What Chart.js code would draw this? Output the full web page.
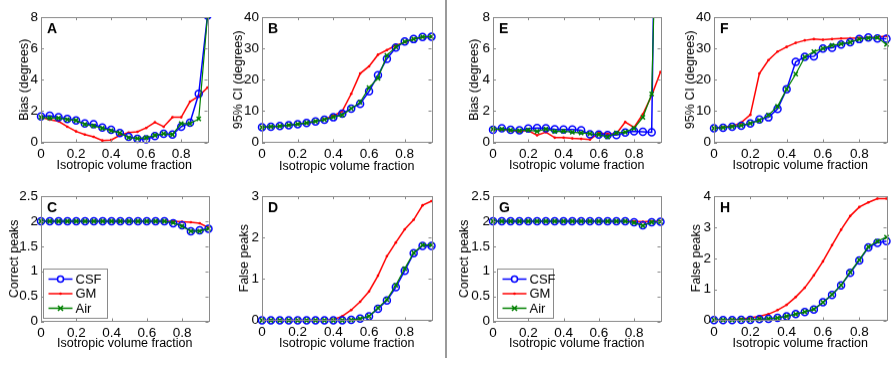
<!DOCTYPE html>
<html>
<head>
<meta charset="utf-8">
<script src="https://cdn.jsdelivr.net/npm/chart.js@4.4.1/dist/chart.umd.min.js"></script>
<style>
  body { margin: 0; background: #fff; width: 892px; height: 369px; position: relative; overflow: hidden; }
  .panel { position: absolute; }
  #divider { position: absolute; left: 445px; top: 0; width: 2px; height: 358px; background: #9a9a9a; }
</style>
</head>
<body>
<div id="divider"></div>
<script>
// x positions (isotropic volume fraction) shared by all panels
const fractions = [0, 0.05, 0.1, 0.15, 0.2, 0.25, 0.3, 0.35, 0.4, 0.45, 0.5, 0.55, 0.6, 0.65, 0.7, 0.75, 0.8, 0.85, 0.9, 0.95];

// tick labels
const xTicks = [0, 0.2, 0.4, 0.6, 0.8];
const biasTicks = [0, 2, 4, 6, 8];
const ciTicks = [0, 10, 20, 30, 40];
const correctTicks = [0, 0.5, 1, 1.5, 2, 2.5];
const falseTicksD = [0, 1, 2, 3];
const falseTicksH = [0, 1, 2, 3, 4];

const seriesNames = ['CSF', 'GM', 'Air'];

// A - bias
const csfA = [1.65, 1.7, 1.6, 1.5, 1.4, 1.2, 1.15, 0.95, 0.8, 0.6, 0.35, 0.22, 0.2, 0.4, 0.55, 0.5, 1.0, 1.25, 3.1, 8.1];
const gmA  = [1.6, 1.45, 1.35, 1.0, 0.7, 0.5, 0.35, 0.12, 0.15, 0.45, 0.62, 0.68, 0.92, 1.28, 1.0, 1.6, 1.6, 2.6, 2.95, 3.5];
const airA = [1.6, 1.55, 1.55, 1.45, 1.4, 1.15, 1.05, 0.9, 0.75, 0.6, 0.3, 0.25, 0.3, 0.45, 0.55, 0.5, 1.2, 1.2, 1.5, 8.1];

// B - 95% CI
const csfB = [4.8, 5, 5.2, 5.5, 5.8, 6.2, 6.7, 7.2, 8, 9.2, 10.8, 12.3, 16.3, 21.5, 26.7, 30.3, 32.2, 33, 33.7, 33.8];
const gmB  = [4.8, 5, 5.2, 5.5, 5.8, 6.2, 6.7, 7.3, 8.5, 10, 15.5, 22, 24.3, 28, 29.5, 31, 32, 33, 33.6, 33.8];
const airB = [4.8, 5, 5.2, 5.5, 5.8, 6.2, 6.7, 7.3, 8.1, 8.7, 10.8, 12.8, 17.5, 20.5, 27.8, 30.5, 32.2, 33, 33.7, 33.8];

// C - correct peaks
const csfC = [2, 2, 2, 2, 2, 2, 2, 2, 2, 2, 2, 2, 2, 2, 2, 1.96, 1.92, 1.8, 1.82, 1.85];
const gmC  = [2, 2, 2, 2, 2, 2, 2, 2, 2, 2, 2, 2, 2, 2, 2, 2, 1.99, 1.98, 1.96, 1.87];
const airC = [2, 2, 2, 2, 2, 2, 2, 2, 2, 2, 2, 2, 2, 2, 2, 1.97, 1.9, 1.8, 1.8, 1.85];

// D - false peaks
const csfD = [0, 0, 0, 0, 0, 0, 0, 0, 0, 0, 0.01, 0.04, 0.1, 0.28, 0.48, 0.8, 1.2, 1.62, 1.8, 1.8];
const gmD  = [0, 0, 0, 0, 0, 0, 0, 0, 0.02, 0.1, 0.25, 0.45, 0.7, 1.08, 1.55, 1.88, 2.2, 2.43, 2.78, 2.88];
const airD = [0, 0, 0, 0, 0, 0, 0, 0, 0, 0, 0.01, 0.04, 0.1, 0.3, 0.5, 0.85, 1.25, 1.63, 1.82, 1.82];

// E - bias
const csfE = [0.8, 0.9, 0.8, 0.77, 0.88, 0.92, 0.9, 0.83, 0.82, 0.82, 0.77, 0.52, 0.5, 0.46, 0.46, 0.62, 0.7, 0.68, 0.64, 40];
const gmE  = [0.85, 0.8, 0.75, 0.7, 0.75, 0.45, 0.65, 0.3, 0.3, 0.25, 0.22, 0.18, 0.6, 0.55, 0.55, 1.3, 0.95, 1.8, 3.0, 4.5];
const airE = [0.85, 0.85, 0.78, 0.75, 0.8, 0.7, 0.85, 0.7, 0.72, 0.65, 0.6, 0.55, 0.5, 0.35, 0.6, 0.65, 0.9, 1.6, 3.1, 25];

// F - 95% CI
const csfF = [4.5, 4.7, 5.0, 5.3, 6.0, 7.3, 8.0, 10.7, 17, 25.7, 27.3, 27.5, 30, 30.2, 31.3, 32, 33, 33.5, 33.2, 33.1];
const gmF  = [4.5, 4.8, 5.2, 6.3, 8.8, 22, 26.3, 29, 30.5, 31.8, 32.6, 33, 32.8, 33, 33.2, 33.3, 33.4, 33.5, 33.6, 34];
const airF = [4.5, 4.7, 5.0, 5.4, 6.1, 7, 8.7, 11.5, 17, 21.8, 27.3, 29, 30, 31, 31.5, 32, 33, 33.3, 33.5, 31.3];

// G - correct peaks
const csfG = [2, 2, 2, 2, 2, 2, 2, 2, 2, 2, 2, 2, 2, 2, 2, 2, 1.98, 1.92, 1.98, 1.99];
const gmG  = [2, 2, 2, 2, 2, 2, 2, 2, 2, 2, 2, 2, 2, 2, 2, 2, 2, 1.99, 2, 2];
const airG = [2, 2, 2, 2, 2, 2, 2, 2, 2, 2, 2, 2, 2, 2, 2, 2, 1.97, 1.91, 1.98, 1.99];

// H - false peaks
const csfH = [0.01, 0.01, 0.01, 0.02, 0.02, 0.04, 0.05, 0.08, 0.13, 0.2, 0.27, 0.35, 0.58, 0.82, 1.13, 1.53, 1.93, 2.35, 2.5, 2.55];
const gmH  = [0, 0.01, 0.02, 0.04, 0.08, 0.13, 0.2, 0.33, 0.5, 0.75, 1.05, 1.45, 1.9, 2.42, 2.92, 3.36, 3.65, 3.8, 3.92, 3.92];
const airH = [0.01, 0.01, 0.01, 0.02, 0.02, 0.04, 0.05, 0.08, 0.13, 0.2, 0.27, 0.36, 0.58, 0.83, 1.13, 1.55, 1.95, 2.37, 2.55, 2.68];

const blue = '#0000ff';
const red = '#ff0000';
const green = '#008000';
const frameGray = '#8a8a8a';
const fontFamily = 'Arial, "Liberation Sans", Helvetica, sans-serif';

Chart.defaults.font.family = fontFamily;
Chart.defaults.color = '#000';

// plot boxes (L,T,R,B of the axes frame)
const panels = [
  {letter: 'A', L: 41,  T: 14,  R: 209, B: 142, yTitleX: 24,  xTitleY: 165, yTitle: 'Bias (degrees)',  yTicks: biasTicks,    data: [csfA, gmA, airA]},
  {letter: 'B', L: 262, T: 14,  R: 433, B: 142, yTitleX: 238, xTitleY: 166, yTitle: '95% CI (degrees)', yTicks: ciTicks,     data: [csfB, gmB, airB]},
  {letter: 'C', L: 41,  T: 193, R: 210, B: 321, yTitleX: 14,  xTitleY: 343, yTitle: 'Correct peaks',   yTicks: correctTicks, data: [csfC, gmC, airC], legend: {dx: 2, w: 64}},
  {letter: 'D', L: 262, T: 193, R: 433, B: 320, yTitleX: 244, xTitleY: 343, yTitle: 'False peaks',     yTicks: falseTicksD,  data: [csfD, gmD, airD]},
  {letter: 'E', L: 493, T: 14,  R: 662, B: 142, yTitleX: 474, xTitleY: 165, yTitle: 'Bias (degrees)',  yTicks: biasTicks,    data: [csfE, gmE, airE]},
  {letter: 'F', L: 714, T: 14,  R: 888, B: 142, yTitleX: 690, xTitleY: 165, yTitle: '95% CI (degrees)', yTicks: ciTicks,     data: [csfF, gmF, airF]},
  {letter: 'G', L: 493, T: 193, R: 662, B: 321, yTitleX: 464, xTitleY: 343, yTitle: 'Correct peaks',   yTicks: correctTicks, data: [csfG, gmG, airG], legend: {dx: 4, w: 56}},
  {letter: 'H', L: 714, T: 193, R: 888, B: 320, yTitleX: 696, xTitleY: 343, yTitle: 'False peaks',     yTicks: falseTicksH,  data: [csfH, gmH, airH]}
];

// draws the matlab style frame, inward ticks, panel letter and legend
const panelPlugin = {
  id: 'panel',
  afterDraw(chart, args, opts) {
    const ctx = chart.ctx;
    const a = chart.chartArea;
    const xs = chart.scales.x, ys = chart.scales.y;
    ctx.save();
    ctx.strokeStyle = frameGray;
    ctx.lineWidth = 1;
    ctx.strokeRect(Math.round(a.left) + 0.5, Math.round(a.top) + 0.5, Math.round(a.right - a.left), Math.round(a.bottom - a.top));
    ctx.beginPath();
    xs.ticks.forEach(t => {
      const px = Math.round(xs.getPixelForValue(t.value)) + 0.5;
      ctx.moveTo(px, a.bottom); ctx.lineTo(px, a.bottom - 3);
      ctx.moveTo(px, a.top); ctx.lineTo(px, a.top + 3);
    });
    ys.ticks.forEach(t => {
      const py = Math.round(ys.getPixelForValue(t.value)) + 0.5;
      ctx.moveTo(a.left, py); ctx.lineTo(a.left + 3, py);
      ctx.moveTo(a.right, py); ctx.lineTo(a.right - 3, py);
    });
    ctx.stroke();

    // panel letter
    ctx.fillStyle = '#000';
    ctx.font = 'bold 14px ' + fontFamily;
    ctx.textBaseline = 'top';
    ctx.textAlign = 'left';
    ctx.fillText(opts.letter, a.left + 6, a.top + 5);

    if (opts.legend) {
      const bx = Math.round(a.left + opts.legend.dx) + 0.5;
      const bh = 49;
      const by = Math.round(a.bottom - 4 - bh) + 0.5;
      ctx.fillStyle = '#fff';
      ctx.fillRect(bx, by, opts.legend.w, bh);
      ctx.strokeStyle = frameGray;
      ctx.strokeRect(bx, by, opts.legend.w, bh);
      const cols = [blue, red, green];
      seriesNames.forEach((name, i) => {
        const cy = by + 10 + i * 14.5;
        ctx.strokeStyle = cols[i];
        ctx.lineWidth = 1.5;
        ctx.beginPath();
        ctx.moveTo(bx + 5, cy); ctx.lineTo(bx + 29, cy);
        ctx.stroke();
        const mx = bx + 17;
        if (i === 0) {
          ctx.beginPath(); ctx.arc(mx, cy, 3, 0, Math.PI * 2); ctx.fillStyle = '#fff'; ctx.fill(); ctx.stroke();
        } else if (i === 1) {
          ctx.beginPath(); ctx.arc(mx, cy, 1.3, 0, Math.PI * 2); ctx.fillStyle = red; ctx.fill();
        } else {
          ctx.beginPath();
          ctx.moveTo(mx - 2.5, cy - 2.5); ctx.lineTo(mx + 2.5, cy + 2.5);
          ctx.moveTo(mx - 2.5, cy + 2.5); ctx.lineTo(mx + 2.5, cy - 2.5);
          ctx.stroke();
        }
        ctx.fillStyle = '#000';
        ctx.font = '13px ' + fontFamily;
        ctx.textBaseline = 'middle';
        ctx.fillText(name, bx + 32, cy + 0.5);
      });
    }
    ctx.restore();
  }
};

const clipBox = {left: 6, right: 6, bottom: 6, top: 0};

function points(arr) {
  return fractions.map((f, i) => ({x: f, y: arr[i]}));
}

panels.forEach(p => {
  const half = 7.5; // half line height of the 12.5px title
  const left = Math.round(p.yTitleX - half);
  const top = p.T - 8;
  const width = p.R + 4 - left;
  const hx = p.xTitleY + half - p.B;
  const height = p.B + hx - top;
  const wy = p.L - left;

  const div = document.createElement('div');
  div.className = 'panel';
  div.style.left = left + 'px';
  div.style.top = top + 'px';
  const canvas = document.createElement('canvas');
  canvas.width = width;
  canvas.height = height;
  canvas.style.width = width + 'px';
  canvas.style.height = height + 'px';
  div.appendChild(canvas);
  document.body.appendChild(div);

  const ymax = p.yTicks[p.yTicks.length - 1];

  new Chart(canvas, {
    type: 'line',
    data: {
      datasets: [
        {label: 'Air', data: points(p.data[2]), borderColor: green, borderWidth: 1.2,
         pointStyle: 'crossRot', pointRadius: 3, pointBorderWidth: 1.5, pointBorderColor: green,
         pointBackgroundColor: green, order: 0, clip: clipBox},
        {label: 'CSF', data: points(p.data[0]), borderColor: blue, borderWidth: 1.5,
         pointStyle: 'circle', pointRadius: 3.5, pointBorderWidth: 1.5, pointBorderColor: blue,
         pointBackgroundColor: 'rgba(0,0,0,0)', order: 1, clip: clipBox},
        {label: 'GM', data: points(p.data[1]), borderColor: red, borderWidth: 1.5,
         pointStyle: 'circle', pointRadius: 1.3, pointBorderWidth: 0, pointBackgroundColor: red,
         order: 2, clip: clipBox}
      ]
    },
    options: {
      responsive: false,
      animation: false,
      events: [],
      layout: {padding: {top: p.T - top, right: 4, left: 0, bottom: 0}},
      plugins: {
        legend: {display: false},
        tooltip: {enabled: false},
        panel: {letter: p.letter, legend: p.legend}
      },
      scales: {
        x: {
          type: 'linear', min: 0, max: 0.95,
          afterBuildTicks: s => { s.ticks = xTicks.map(v => ({value: v})); },
          afterFit: s => { s.height = hx; },
          grid: {display: false, drawTicks: false},
          border: {display: false},
          ticks: {padding: 4, autoSkip: false, maxRotation: 0, font: {size: 13.5}, callback: v => String(v)},
          title: {display: true, text: 'Isotropic volume fraction', font: {size: 12.5, lineHeight: 1.2}, padding: 0}
        },
        y: {
          type: 'linear', min: 0, max: ymax,
          afterBuildTicks: s => { s.ticks = p.yTicks.map(v => ({value: v})); },
          afterFit: s => { s.width = wy; },
          grid: {display: false, drawTicks: false},
          border: {display: false},
          ticks: {padding: 3, autoSkip: false, font: {size: 13.5}, callback: v => String(v)},
          title: {display: true, text: p.yTitle, font: {size: 12.5, lineHeight: 1.2}, padding: 0}
        }
      }
    },
    plugins: [panelPlugin]
  });
});
</script>
</body>
</html>
